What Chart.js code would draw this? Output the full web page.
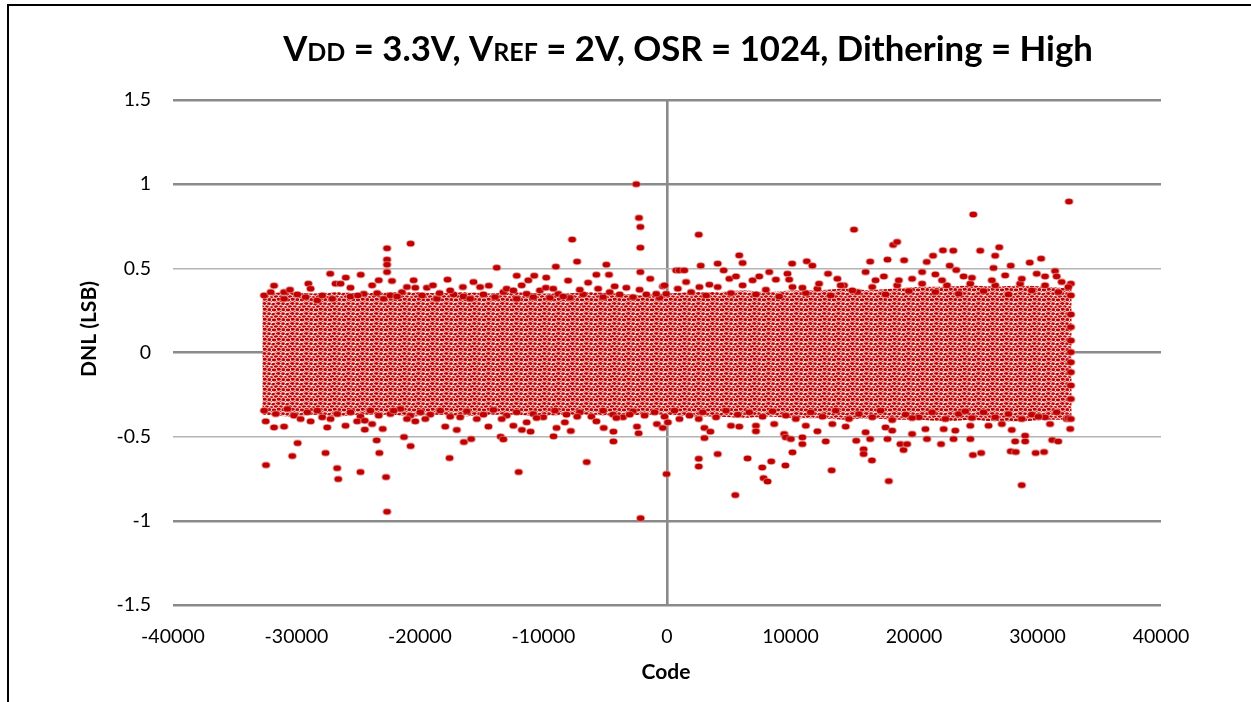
<!DOCTYPE html>
<html>
<head>
<meta charset="utf-8">
<script src="https://cdn.jsdelivr.net/npm/chart.js@4/dist/chart.umd.min.js"></script>
<style>
  html, body { margin: 0; padding: 0; background: #fff; overflow: hidden; }
  #wrap { position: absolute; left: 0; top: 0; width: 1251px; height: 702px; }
  #frame { position: absolute; left: 7px; top: 4px; width: 1400px; height: 900px;
           border-left: 2px solid #000; border-top: 2px solid #000; pointer-events: none; }
</style>
</head>
<body>
<div id="wrap"><canvas id="chart" width="1251" height="702"></canvas></div>
<div id="frame"></div>
<script>
// Axis ticks
const xTickValues = [-40000, -30000, -20000, -10000, 0, 10000, 20000, 30000, 40000];
const xTickLabels = ['-40000', '-30000', '-20000', '-10000', '0', '10000', '20000', '30000', '40000'];
const yTickValues = [-1.5, -1, -0.5, 0, 0.5, 1, 1.5];
const yTickLabels = ['-1.5', '-1', '-0.5', '0', '0.5', '1', '1.5'];

// Dense core of the DNL cloud: upper / lower extent per code
const envelopeCodes = [-32768, -30720, -28672, -26624, -24576, -22528, -20480, -18432, -16384,
                       -14336, -12288, -10240, -8192, -6144, -4096, -2048, 0,
                       2048, 4096, 6144, 8192, 10240, 12288, 14336, 16384,
                       18432, 20480, 22528, 24576, 26624, 28672, 30720, 32767];
const envelopeHigh = [0.35, 0.36, 0.35, 0.36, 0.35, 0.36, 0.36, 0.35, 0.36,
                      0.35, 0.36, 0.35, 0.35, 0.36, 0.35, 0.34, 0.35,
                      0.36, 0.36, 0.37, 0.36, 0.37, 0.37, 0.38, 0.37,
                      0.38, 0.39, 0.39, 0.40, 0.39, 0.40, 0.39, 0.38];
const envelopeLow = [-0.37, -0.38, -0.37, -0.38, -0.37, -0.37, -0.38, -0.37, -0.38,
                     -0.37, -0.37, -0.38, -0.37, -0.37, -0.38, -0.37, -0.37,
                     -0.38, -0.38, -0.39, -0.38, -0.39, -0.39, -0.40, -0.39,
                     -0.40, -0.40, -0.41, -0.40, -0.41, -0.41, -0.40, -0.40];

// Individual codes above the core
const highCodes = [
  -31820, -31011, -30527, -29040, -28858, -27270, -26840, -26436, -26010, -25629,
  -25037, -24800, -23880, -23476, -23342, -22670, -22670, -22670, -22670, -22270,
  -21862, -21055, -20760, -20520, -20382, -19440, -18955, -18417, -17770, -17556,
  -16533, -15672, -15134, -14430, -13790, -12981, -12443, -12170, -11770, -11232,
  -10750, -10290, -9806, -9780, -9214, -9000, -8407, -8010, -7680, -7280,
  -7061, -6390, -5720, -5581, -4910, -4700, -4236, -3294, -2490, -2270,
  -2218, -2160, -2160, -2160, -1360, -872, -334, -201, 741, 1000,
  1400, 1548, 2570, 2624, 2730, 3431, 4100, 4590, 5046, 5584,
  5850, 6120, 6930, 7468, 8275, 8814, 9755, 9890, 10130, 10966,
  11320, 11770, 12312, 13040, 13792, 14061, 15003, 15140, 16079, 16450,
  16887, 17560, 17850, 18310, 18630, 18770, 19200, 19846, 20654, 21030,
  21540, 21730, 22268, 22340, 22890, 23180, 23420, 24017, 24690, 24800,
  25360, 26305, 26440, 26570, 26900, 27381, 27830, 28727, 29370, 29938,
  30290, 30610, 31420, 31552, 31956, 32494, 32550
];
const highDnl = [
  0.397, 0.359, 0.373, 0.409, 0.379, 0.468, 0.409, 0.409, 0.445, 0.385,
  0.339, 0.462, 0.399, 0.353, 0.429, 0.619, 0.552, 0.522, 0.478, 0.425,
  0.333, 0.389, 0.647, 0.429, 0.385, 0.385, 0.399, 0.353, 0.433, 0.369,
  0.389, 0.419, 0.389, 0.397, 0.504, 0.379, 0.369, 0.456, 0.399, 0.429,
  0.456, 0.369, 0.385, 0.445, 0.379, 0.510, 0.333, 0.427, 0.671, 0.540,
  0.373, 0.415, 0.462, 0.379, 0.522, 0.462, 0.393, 0.385, 1.000, 0.800,
  0.373, 0.746, 0.623, 0.478, 0.438, 0.349, 0.393, 0.399, 0.488, 0.488,
  0.488, 0.419, 0.700, 0.389, 0.516, 0.403, 0.528, 0.488, 0.438, 0.452,
  0.577, 0.532, 0.429, 0.452, 0.478, 0.433, 0.468, 0.433, 0.528, 0.385,
  0.542, 0.516, 0.409, 0.468, 0.438, 0.399, 0.369, 0.730, 0.478, 0.540,
  0.429, 0.452, 0.552, 0.639, 0.657, 0.429, 0.548, 0.438, 0.478, 0.538,
  0.575, 0.464, 0.429, 0.607, 0.516, 0.605, 0.490, 0.452, 0.444, 0.820,
  0.605, 0.429, 0.502, 0.575, 0.625, 0.458, 0.516, 0.438, 0.534, 0.468,
  0.558, 0.452, 0.484, 0.452, 0.419, 0.389, 0.897
];

// Codes along the upper rim of the core
const upperRimCodes = [
  -32626, -32087, -31011, -29935, -29262, -28320, -27916, -27109, -25629, -24553,
  -22938, -22400, -21458, -19843, -18632, -17287, -16480, -15941, -14865, -13923,
  -13250, -12174, -11367, -10829, -9483, -8810, -7868, -6792, -5177, -4639,
  -3832, -2756, -1679, -603, -67, 875, 1951, 3162, 4104, 5181,
  6123, 7199, 8006, 9083, 10159, 11235, 12177, 13254, 14330, 15406,
  16617, 17694, 18636, 19578, 20654, 21730, 22667, 23614, 24556, 25632,
  26574, 27651, 28592, 29534, 30611, 31687, 32700
];
const upperRimDnl = [
  0.339, 0.359, 0.319, 0.345, 0.329, 0.310, 0.339, 0.319, 0.333, 0.349,
  0.319, 0.339, 0.359, 0.339, 0.319, 0.345, 0.333, 0.319, 0.345, 0.329,
  0.359, 0.319, 0.349, 0.329, 0.325, 0.349, 0.325, 0.345, 0.329, 0.359,
  0.345, 0.329, 0.345, 0.325, 0.349, 0.379, 0.359, 0.339, 0.389, 0.353,
  0.399, 0.345, 0.373, 0.333, 0.389, 0.353, 0.379, 0.339, 0.399, 0.359,
  0.389, 0.345, 0.399, 0.365, 0.409, 0.359, 0.399, 0.349, 0.409, 0.365,
  0.399, 0.345, 0.409, 0.369, 0.399, 0.359, 0.409
];

// Individual codes below the core
const lowCodes = [
  -32491, -32470, -31818, -31011, -30340, -29910, -29666, -28858, -27650, -27513,
  -27244, -26710, -26620, -26032, -25091, -24820, -24470, -24470, -23880, -23510,
  -23342, -23290, -23020, -22750, -22670, -22131, -21300, -21055, -20760, -20382,
  -19574, -17960, -17610, -17020, -16749, -16450, -15860, -15403, -14461, -13470,
  -13385, -13250, -12443, -12010, -11750, -11366, -11050, -10559, -9190, -8945,
  -8272, -7790, -7276, -6500, -5715, -5124, -4340, -4340, -4101, -3025,
  -2433, -2300, -2140, -818, -340, -40, 68, 1010, 2570, 2570,
  2570, 3028, 3030, 3510, 4100, 5181, 5530, 5853, 6520, 7199,
  7199, 7710, 7820, 8140, 8440, 8679, 9486, 9590, 9620, 10030,
  10160, 10960, 10960, 11235, 12177, 12850, 13330, 13388, 14464, 15320,
  15920, 15920, 16079, 16450, 16590, 17694, 17850, 17960, 18233, 18900,
  19150, 19440, 19846, 19846, 20923, 21050, 22190, 22403, 23200, 23345,
  24152, 24555, 24560, 24770, 25440, 26036, 27112, 27830, 27919, 28190,
  28240, 28720, 28996, 29000, 29850, 30072, 30530, 31014, 31190, 31680,
  32494, 32650
];
const lowDnl = [
  -0.409, -0.669, -0.445, -0.440, -0.615, -0.538, -0.395, -0.409, -0.597, -0.445,
  -0.395, -0.687, -0.752, -0.435, -0.409, -0.710, -0.458, -0.405, -0.425, -0.522,
  -0.375, -0.597, -0.454, -0.740, -0.946, -0.345, -0.502, -0.395, -0.556, -0.409,
  -0.395, -0.440, -0.627, -0.460, -0.385, -0.532, -0.514, -0.395, -0.440, -0.500,
  -0.395, -0.516, -0.435, -0.710, -0.460, -0.415, -0.470, -0.389, -0.498, -0.448,
  -0.415, -0.466, -0.381, -0.651, -0.409, -0.448, -0.528, -0.470, -0.389, -0.369,
  -0.440, -0.480, -0.984, -0.425, -0.448, -0.722, -0.415, -0.395, -0.395, -0.631,
  -0.677, -0.448, -0.508, -0.470, -0.603, -0.435, -0.847, -0.440, -0.629, -0.435,
  -0.468, -0.683, -0.746, -0.766, -0.647, -0.425, -0.484, -0.671, -0.504, -0.514,
  -0.593, -0.504, -0.544, -0.435, -0.468, -0.528, -0.700, -0.425, -0.440, -0.524,
  -0.575, -0.603, -0.474, -0.514, -0.641, -0.445, -0.514, -0.764, -0.464, -0.544,
  -0.579, -0.544, -0.389, -0.484, -0.455, -0.514, -0.544, -0.455, -0.514, -0.464,
  -0.349, -0.435, -0.514, -0.609, -0.597, -0.435, -0.425, -0.587, -0.460, -0.528,
  -0.591, -0.788, -0.494, -0.528, -0.597, -0.381, -0.591, -0.425, -0.520, -0.528,
  -0.389, -0.454
];

// Codes along the lower rim of the core
const lowerRimCodes = [
  -32626, -31684, -30742, -30204, -29127, -28320, -27916, -26705, -25629, -24821,
  -24014, -22400, -21593, -20785, -19978, -19171, -18363, -17556, -16211, -14865,
  -14058, -12981, -12174, -10829, -10021, -9080, -8138, -7061, -6119, -5177,
  -4370, -3563, -2756, -1813, -1006, -199, 606, 1817, 2893, 3970,
  4777, 5719, 6661, 7737, 8544, 9621, 10428, 11639, 12581, 13657,
  14734, 15541, 16617, 17290, 18232, 19308, 20385, 21461, 22538, 23614,
  24690, 25632, 26574, 27651, 28727, 29534, 30611, 31552, 32359
];
const lowerRimDnl = [
  -0.345, -0.365, -0.335, -0.375, -0.355, -0.345, -0.385, -0.365, -0.355, -0.381,
  -0.345, -0.365, -0.335, -0.375, -0.355, -0.369, -0.345, -0.381, -0.349, -0.369,
  -0.341, -0.375, -0.355, -0.365, -0.385, -0.345, -0.369, -0.355, -0.381, -0.345,
  -0.369, -0.385, -0.349, -0.375, -0.355, -0.381, -0.345, -0.375, -0.355, -0.385,
  -0.345, -0.369, -0.355, -0.381, -0.349, -0.375, -0.395, -0.355, -0.381, -0.345,
  -0.395, -0.365, -0.385, -0.345, -0.401, -0.369, -0.385, -0.355, -0.395, -0.365,
  -0.389, -0.355, -0.385, -0.365, -0.395, -0.369, -0.385, -0.355, -0.395
];

// Last codes of the range
const endCodes = [32700, 32700, 32700, 32700, 32700, 32700, 32700, 32700, 32700, 32700];
const endDnl = [0.339, 0.226, 0.151, 0.071, 0.002, -0.058, -0.117, -0.196, -0.276, -0.395];

const RED = '#C00000';
const FONT = 'Lato, "Open Sans", sans-serif';

// Elliptical marker with a thin light rim
function makeMarker() {
  const m = document.createElement('canvas');
  m.width = 11; m.height = 9;
  const g = m.getContext('2d');
  g.beginPath();
  g.ellipse(5.5, 4.5, 4.2, 3.2, 0, 0, Math.PI * 2);
  g.fillStyle = RED;
  g.fill();
  g.lineWidth = 0.5;
  g.strokeStyle = 'rgba(255,255,255,0.8)';
  g.stroke();
  return m;
}

// Speckled texture for the dense core (overlapping markers)
function makeSpeckle(ctx2d) {
  const w = 14, h = 10;
  const t = document.createElement('canvas');
  t.width = w; t.height = h;
  const g = t.getContext('2d');
  g.fillStyle = '#fff';
  g.fillRect(0, 0, w, h);
  const spots = [[0.6, 0.9], [5.2, 0.4], [9.8, 1.6], [2.9, 3.8], [7.6, 4.4], [12.3, 3.6],
                 [0.8, 6.9], [5.4, 7.7], [10.1, 6.8], [3.2, 9.6], [12.6, 9.2], [8.0, 9.9]];
  for (const [sx, sy] of spots) {
    for (const dx of [-w, 0, w]) {
      for (const dy of [-h, 0, h]) {
        g.beginPath();
        g.ellipse(sx + dx, sy + dy, 2.7, 2.0, 0, 0, Math.PI * 2);
        g.fillStyle = RED;
        g.fill();
        g.lineWidth = 0.8;
        g.strokeStyle = 'rgba(255,255,255,0.95)';
        g.stroke();
      }
    }
  }
  return ctx2d.createPattern(t, 'repeat');
}

const canvas = document.getElementById('chart');
const ctx = canvas.getContext('2d');
const marker = makeMarker();
const speckle = makeSpeckle(ctx);

const toXY = (xs, ys) => xs.map((x, i) => ({ x: x, y: ys[i] }));
const pointData = [].concat(
  toXY(upperRimCodes, upperRimDnl), toXY(lowerRimCodes, lowerRimDnl),
  toXY(highCodes, highDnl), toXY(lowCodes, lowDnl), toXY(endCodes, endDnl));

// Fit a string to a target width by scaling its font size
function fitSize(g, text, weight, target) {
  g.font = weight + ' 100px ' + FONT;
  return 100 * target / g.measureText(text).width;
}

const textPlugin = {
  id: 'texts',
  afterDraw(chart) {
    const g = chart.ctx;
    g.save();
    g.fillStyle = '#000';
    // Title with small-cap subscripts
    const parts = [['V', 1], ['DD', 0.72], [' = 3.3V, V', 1], ['REF', 0.72], [' = 2V, OSR = 1024, Dithering = High', 1]];
    const measure = (s) => {
      let tot = 0;
      for (const [t, k] of parts) { g.font = 'bold ' + (s * k) + 'px ' + FONT; tot += g.measureText(t).width; }
      return tot;
    };
    const base = 30 * 810 / measure(30);
    let x = 688 - measure(base) / 2;
    g.textBaseline = 'alphabetic';
    g.textAlign = 'left';
    for (const [t, k] of parts) {
      g.font = 'bold ' + (base * k) + 'px ' + FONT;
      g.fillText(t, x, 61);
      x += g.measureText(t).width;
    }
    // Axis titles
    g.textAlign = 'center';
    g.textBaseline = 'middle';
    const ys = fitSize(g, 'DNL (LSB)', 'bold', 96);
    g.font = 'bold ' + ys + 'px ' + FONT;
    g.translate(89, 329);
    g.rotate(-Math.PI / 2);
    g.fillText('DNL (LSB)', 0, 0);
    g.setTransform(1, 0, 0, 1, 0, 0);
    const xs = fitSize(g, 'Code', 'bold', 49);
    g.font = 'bold ' + xs + 'px ' + FONT;
    g.fillText('Code', 666, 672);
    g.restore();
  }
};

new Chart(canvas, {
  type: 'scatter',
  data: {
    datasets: [
      {
        label: 'DNL',
        data: pointData,
        pointStyle: marker,
        pointRadius: 4,
        order: 0
      },
      {
        type: 'line',
        label: 'core high',
        data: toXY(envelopeCodes, envelopeHigh),
        borderWidth: 0,
        borderColor: 'rgba(0,0,0,0)',
        pointRadius: 0,
        fill: '+1',
        backgroundColor: speckle,
        order: 1
      },
      {
        type: 'line',
        label: 'core low',
        data: toXY(envelopeCodes, envelopeLow),
        borderWidth: 0,
        borderColor: 'rgba(0,0,0,0)',
        pointRadius: 0,
        fill: false,
        order: 2
      }
    ]
  },
  options: {
    responsive: false,
    animation: false,
    devicePixelRatio: 1,
    events: [],
    layout: { padding: { top: 100, right: 90, bottom: 0, left: 0 } },
    plugins: { legend: { display: false }, tooltip: { enabled: false }, title: { display: false } },
    scales: {
      x: {
        type: 'linear',
        min: -40000, max: 40000,
        afterBuildTicks: (s) => { s.ticks = xTickValues.map(v => ({ value: v })); },
        afterFit: (s) => { s.height = 97; },
        ticks: {
          callback: (v) => xTickLabels[xTickValues.indexOf(v)],
          font: { family: FONT, size: 19.5 },
          color: '#000',
          padding: 20,
          maxRotation: 0,
          autoSkip: false
        },
        grid: {
          drawTicks: false,
          color: (c) => (c.tick && c.tick.value === 0) ? '#8a8a8a' : 'rgba(0,0,0,0)',
          lineWidth: 2.6
        },
        border: { display: false }
      },
      y: {
        min: -1.5, max: 1.5,
        afterBuildTicks: (s) => { s.ticks = yTickValues.map(v => ({ value: v })); },
        afterFit: (s) => { s.width = 173; },
        ticks: {
          callback: (v) => yTickLabels[yTickValues.indexOf(v)],
          font: { family: FONT, size: 19.5 },
          color: '#000',
          padding: 22
        },
        grid: {
          drawTicks: false,
          color: (c) => (c.tick && Math.abs(c.tick.value) === 0.5) ? '#b4b4b4' : '#8a8a8a',
          lineWidth: (c) => (c.tick && Math.abs(c.tick.value) === 0.5) ? 1.5 : 2.6
        },
        border: { display: false }
      }
    }
  },
  plugins: [textPlugin]
});
</script>
</body>
</html>
